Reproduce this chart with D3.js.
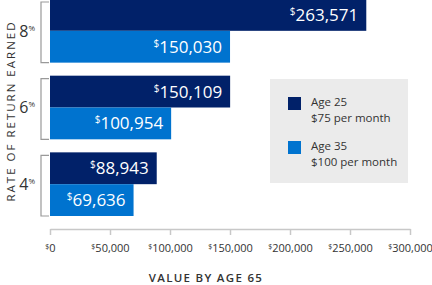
<!DOCTYPE html>
<html>
<head>
<meta charset="utf-8">
<script src="https://cdn.jsdelivr.net/npm/d3@7"></script>
<style>
  body { margin: 0; background: #fff; }
  svg { display: block; font-family: "Open Sans", "Noto Sans", sans-serif; }
</style>
</head>
<body>
<div id="chart"></div>
<script>
// data
var rates = ["8%", "6%", "4%"];
var seriesNames = ["Age 25", "Age 35"];
var seriesNotes = ["$75 per month", "$100 per month"];
var age25Values = [263571, 150109, 88943];
var age35Values = [150030, 100954, 69636];
var xTicks = [0, 50000, 100000, 150000, 200000, 250000, 300000];

var colors = ["#012169", "#0073cf"];
var textColor = "#333";

var width = 432, height = 285;

var svg = d3.select("#chart").append("svg")
  .attr("width", width)
  .attr("height", height);

var x = d3.scaleLinear().domain([0, 300000]).range([50, 410]);

var y = d3.scaleBand().domain(rates).range([-1, 216])
  .paddingInner(0.17).paddingOuter(0);

var ySub = d3.scaleBand().domain([0, 1]).range([0, y.bandwidth()]);

var fmt = d3.format(",");

// rows table from the arrays
var rows = rates.map(function (r, i) {
  return { rate: r, values: [age25Values[i], age35Values[i]] };
});

// legend box (behind bars)
var legend = svg.append("g");
legend.append("rect")
  .attr("x", 270).attr("y", 79)
  .attr("width", 138).attr("height", 104)
  .attr("fill", "#ebebeb");

seriesNames.forEach(function (name, i) {
  var ly = 97 + i * 44;
  legend.append("rect")
    .attr("x", 288).attr("y", ly)
    .attr("width", 13).attr("height", 13)
    .attr("fill", colors[i]);
  legend.append("text")
    .attr("x", 311).attr("y", ly + 9)
    .attr("font-size", 11.5).attr("fill", textColor)
    .text(name);
  legend.append("text")
    .attr("x", 311).attr("y", ly + 24.5)
    .attr("font-size", 11.5).attr("fill", textColor)
    .text(seriesNotes[i]);
});

// bars
var groups = svg.selectAll("g.grp")
  .data(rows)
  .enter().append("g")
  .attr("class", "grp")
  .attr("transform", function (d) { return "translate(0," + y(d.rate) + ")"; });

groups.selectAll("rect")
  .data(function (d) { return d.values; })
  .enter().append("rect")
  .attr("x", x(0))
  .attr("y", function (d, i) { return ySub(i); })
  .attr("width", function (d) { return x(d) - x(0); })
  .attr("height", ySub.bandwidth())
  .attr("fill", function (d, i) { return colors[i]; });

var vl = groups.selectAll("text.val")
  .data(function (d) { return d.values; })
  .enter().append("text")
  .attr("class", "val")
  .attr("x", function (d) { return x(d) - 8; })
  .attr("y", function (d, i) { return ySub(i) + ySub.bandwidth() / 2 + 6; })
  .attr("text-anchor", "end")
  .attr("fill", "#fff")
  .attr("font-size", 17);
vl.append("tspan")
  .attr("font-size", 10).attr("dy", -6)
  .text("$");
vl.append("tspan")
  .attr("dy", 6)
  .text(function (d) { return fmt(d); });

// brackets and rate labels
var br = groups.append("g").attr("fill", "none").attr("stroke", "#999").attr("stroke-width", 1.2);
br.append("path")
  .attr("d", function () {
    var t = 3, b = y.bandwidth();
    return "M49," + t + "H41V" + b + "H49";
  });

var rl = groups.append("text")
  .attr("x", 35)
  .attr("y", y.bandwidth() / 2 + 6)
  .attr("text-anchor", "end")
  .attr("fill", textColor)
  .attr("font-size", 16);
rl.append("tspan").text(function (d) { return d.rate.replace("%", ""); });
rl.append("tspan").attr("font-size", 8).attr("dy", -6).text("%");

// x axis
var xAxis = svg.append("g")
  .attr("transform", "translate(0,229)")
  .call(d3.axisBottom(x).tickValues(xTicks).tickSize(6).tickSizeOuter(0).tickFormat(""));
xAxis.select(".domain").attr("stroke", "#c8c8c8").attr("stroke-width", 1.5);
xAxis.selectAll(".tick line").attr("stroke", "#c8c8c8").attr("stroke-width", 1.5);

var tl = xAxis.selectAll(".tick").append("text")
  .attr("y", 23)
  .attr("text-anchor", "middle")
  .attr("fill", textColor)
  .attr("font-size", 11)
  .attr("font-family", "\"Open Sans\", sans-serif");
tl.append("tspan").attr("font-size", 7).attr("dy", -3).text("$");
tl.append("tspan").attr("dy", 3).text(function (d) { return fmt(d); });

// axis titles
svg.append("text")
  .attr("x", 206).attr("y", 282)
  .attr("text-anchor", "middle")
  .attr("font-size", 11.5).attr("font-weight", 600)
  .attr("letter-spacing", 1.3)
  .attr("fill", textColor)
  .text("VALUE BY AGE 65");

svg.append("text")
  .attr("transform", "translate(15,111) rotate(-90)")
  .attr("text-anchor", "middle")
  .attr("font-size", 11.5)
  .attr("letter-spacing", 2)
  .attr("fill", textColor)
  .text("RATE OF RETURN EARNED");
</script>
</body>
</html>
